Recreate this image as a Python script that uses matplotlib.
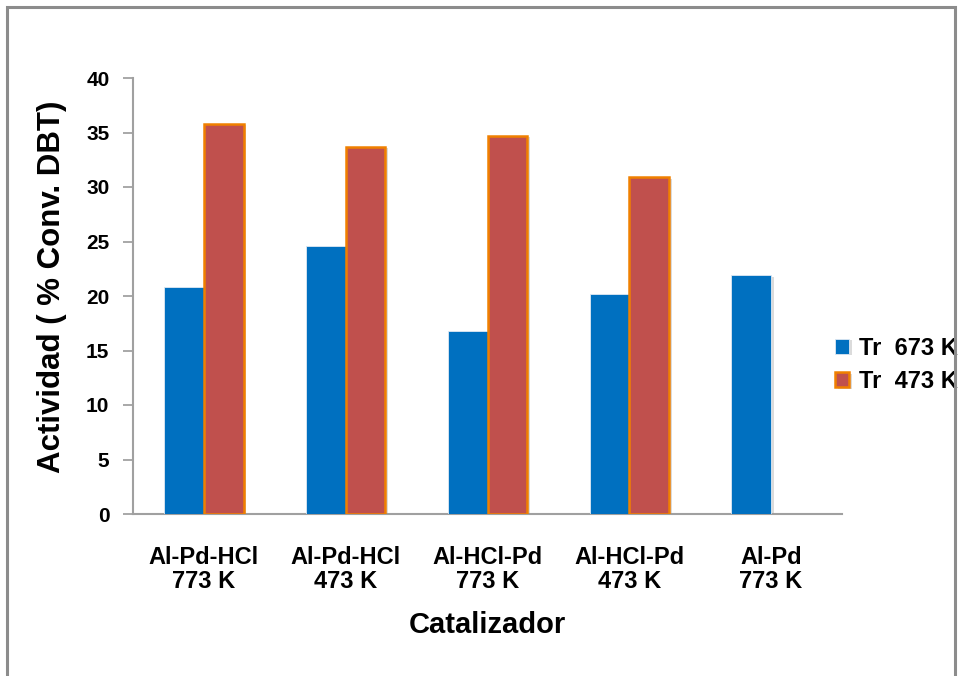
import matplotlib
matplotlib.use("Agg")
import matplotlib.pyplot as plt
from matplotlib.patches import Rectangle
from matplotlib import patheffects as pe
import numpy as np

plt.rcParams['font.family'] = ['Liberation Sans', 'DejaVu Sans']
plt.rcParams['font.weight'] = 'bold'

categories = ["Al-Pd-HCl\n773 K", "Al-Pd-HCl\n473 K", "Al-HCl-Pd\n773 K",
              "Al-HCl-Pd\n473 K", "Al-Pd\n773 K"]
tr_673 = [20.8, 24.6, 16.8, 20.2, 21.9]
tr_473 = [35.8, 33.7, 34.7, 30.9, np.nan]
series_labels = ["Tr  673 K", "Tr  473 K"]

W, H = 958, 676
fig = plt.figure(figsize=(W / 100, H / 100), dpi=100)

# outer frame of the chart area
fig.patches.append(Rectangle((7 / W, -0.05), (955 - 7) / W, 1.05 - 7 / H,
                             transform=fig.transFigure, fill=False,
                             edgecolor="#8c8c8c", linewidth=2.2))

ax = fig.add_axes([133 / W, 1 - 514 / H, (842 - 133) / W, (514 - 78) / H])

x = np.arange(len(categories))
bw = 0.28
shadow = [pe.SimplePatchShadow(offset=(2, -1), shadow_rgbFace="#999999", alpha=0.35),
          pe.Normal()]
b1 = ax.bar(x - bw / 2, tr_673, bw, color="#0070C0", edgecolor="#dfe9f3",
            linewidth=0.6, label=series_labels[0], zorder=3)
b2 = ax.bar(x + bw / 2, tr_473, bw, color="#C0504D", edgecolor="#F08000",
            linewidth=1.8, label=series_labels[1], zorder=3)
for p in list(b1) + list(b2):
    p.set_path_effects(shadow)

ax.set_xlim(-0.5, len(categories) - 0.5)
ax.set_ylim(0, 40)
ax.set_yticks(np.arange(0, 41, 5))
ax.set_xticks(x)
ax.set_xticklabels(categories, fontsize=17, fontweight="bold", linespacing=1.05)
ax.tick_params(axis="x", length=0, pad=23)
ax.tick_params(axis="y", length=7, width=1.2, color="#999999", pad=10,
               labelsize=15)

for s in ["top", "right"]:
    ax.spines[s].set_visible(False)
for s in ["left", "bottom"]:
    ax.spines[s].set_color("#a0a0a0")
    ax.spines[s].set_linewidth(1.5)

ax.set_ylabel("Actividad ( % Conv. DBT)", fontsize=22.5, fontweight="bold")
ax.yaxis.set_label_coords(-0.093, 0.52)
ax.set_xlabel("Catalizador", fontsize=21, fontweight="bold", labelpad=13)

leg = ax.legend(loc="center left", bbox_to_anchor=(0.99, 0.342), frameon=False,
                fontsize=17, handlelength=0.6, handleheight=0.6,
                handletextpad=0.4, labelspacing=0.45, borderpad=0, borderaxespad=0)
for t in leg.get_texts():
    t.set_fontweight("bold")

fig.savefig("out.png", dpi=100)
